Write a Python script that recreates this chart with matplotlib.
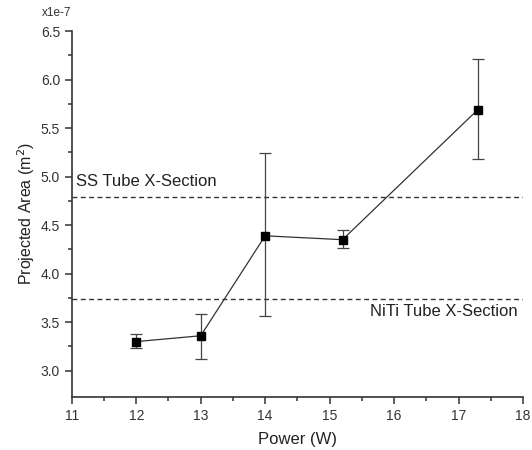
import matplotlib.pyplot as plt
import numpy as np

plt.rcParams['font.family'] = ['Liberation Sans', 'DejaVu Sans']

# data (y in units of 1e-7 m^2)
power = [12, 13, 14, 15.2, 17.3]
area = [3.30, 3.36, 4.39, 4.35, 5.69]
err_low = [3.23, 3.12, 3.56, 4.26, 5.18]
err_high = [3.38, 3.58, 5.24, 4.45, 6.21]
ss_section = 4.79
niti_section = 3.74

area = np.array(area)
yerr = [area - np.array(err_low), np.array(err_high) - area]

fig = plt.figure(figsize=(5.32, 4.5), dpi=100)
ax = fig.add_axes([0.135, 0.118, 0.848, 0.813])

ax.axhline(ss_section, color='#333333', lw=1, ls=(0, (3.5, 2.5)))
ax.axhline(niti_section, color='#333333', lw=1, ls=(0, (3.5, 2.5)))

ax.errorbar(power, area, yerr=yerr, color='#333333', lw=0.9, ecolor='#444444',
            elinewidth=0.9, capsize=4, capthick=0.9,
            marker='s', markersize=6, mfc='black', mec='black')

ax.text(11.06, ss_section + 0.16, 'SS Tube X-Section', fontsize=12,
        color='#222222', va='center', ha='left')
ax.text(17.92, niti_section - 0.13, 'NiTi Tube X-Section', fontsize=12,
        color='#222222', va='center', ha='right')

ax.set_xlim(11, 18)
ax.set_ylim(2.73, 6.5)
ax.set_xticks(np.arange(11, 19, 1))
ax.set_xticks(np.arange(11.5, 18, 1), minor=True)
ax.set_yticks(np.arange(3.0, 6.51, 0.5))
ax.set_yticklabels(['%.1f' % v for v in np.arange(3.0, 6.51, 0.5)])
ax.set_yticks(np.arange(3.25, 6.5, 0.5), minor=True)

for s in ['top', 'right']:
    ax.spines[s].set_visible(False)
for s in ['left', 'bottom']:
    ax.spines[s].set_color('#333333')
    ax.spines[s].set_linewidth(1.2)

ax.tick_params(which='major', direction='out', length=5, width=1.1,
               colors='#333333', labelsize=10, labelcolor='#333333')
ax.tick_params(which='minor', direction='out', length=3, width=1.1, colors='#333333')

ax.set_xlabel('Power (W)', fontsize=12, color='#222222', labelpad=7)
ax.set_ylabel('Projected Area (m$^2$)', fontsize=11.5, color='#222222', labelpad=3)

fig.text(0.135, 0.972, 'x1e-7', fontsize=8.5, color='#333333', ha='right', va='center')

fig.savefig('out.png', dpi=100)
